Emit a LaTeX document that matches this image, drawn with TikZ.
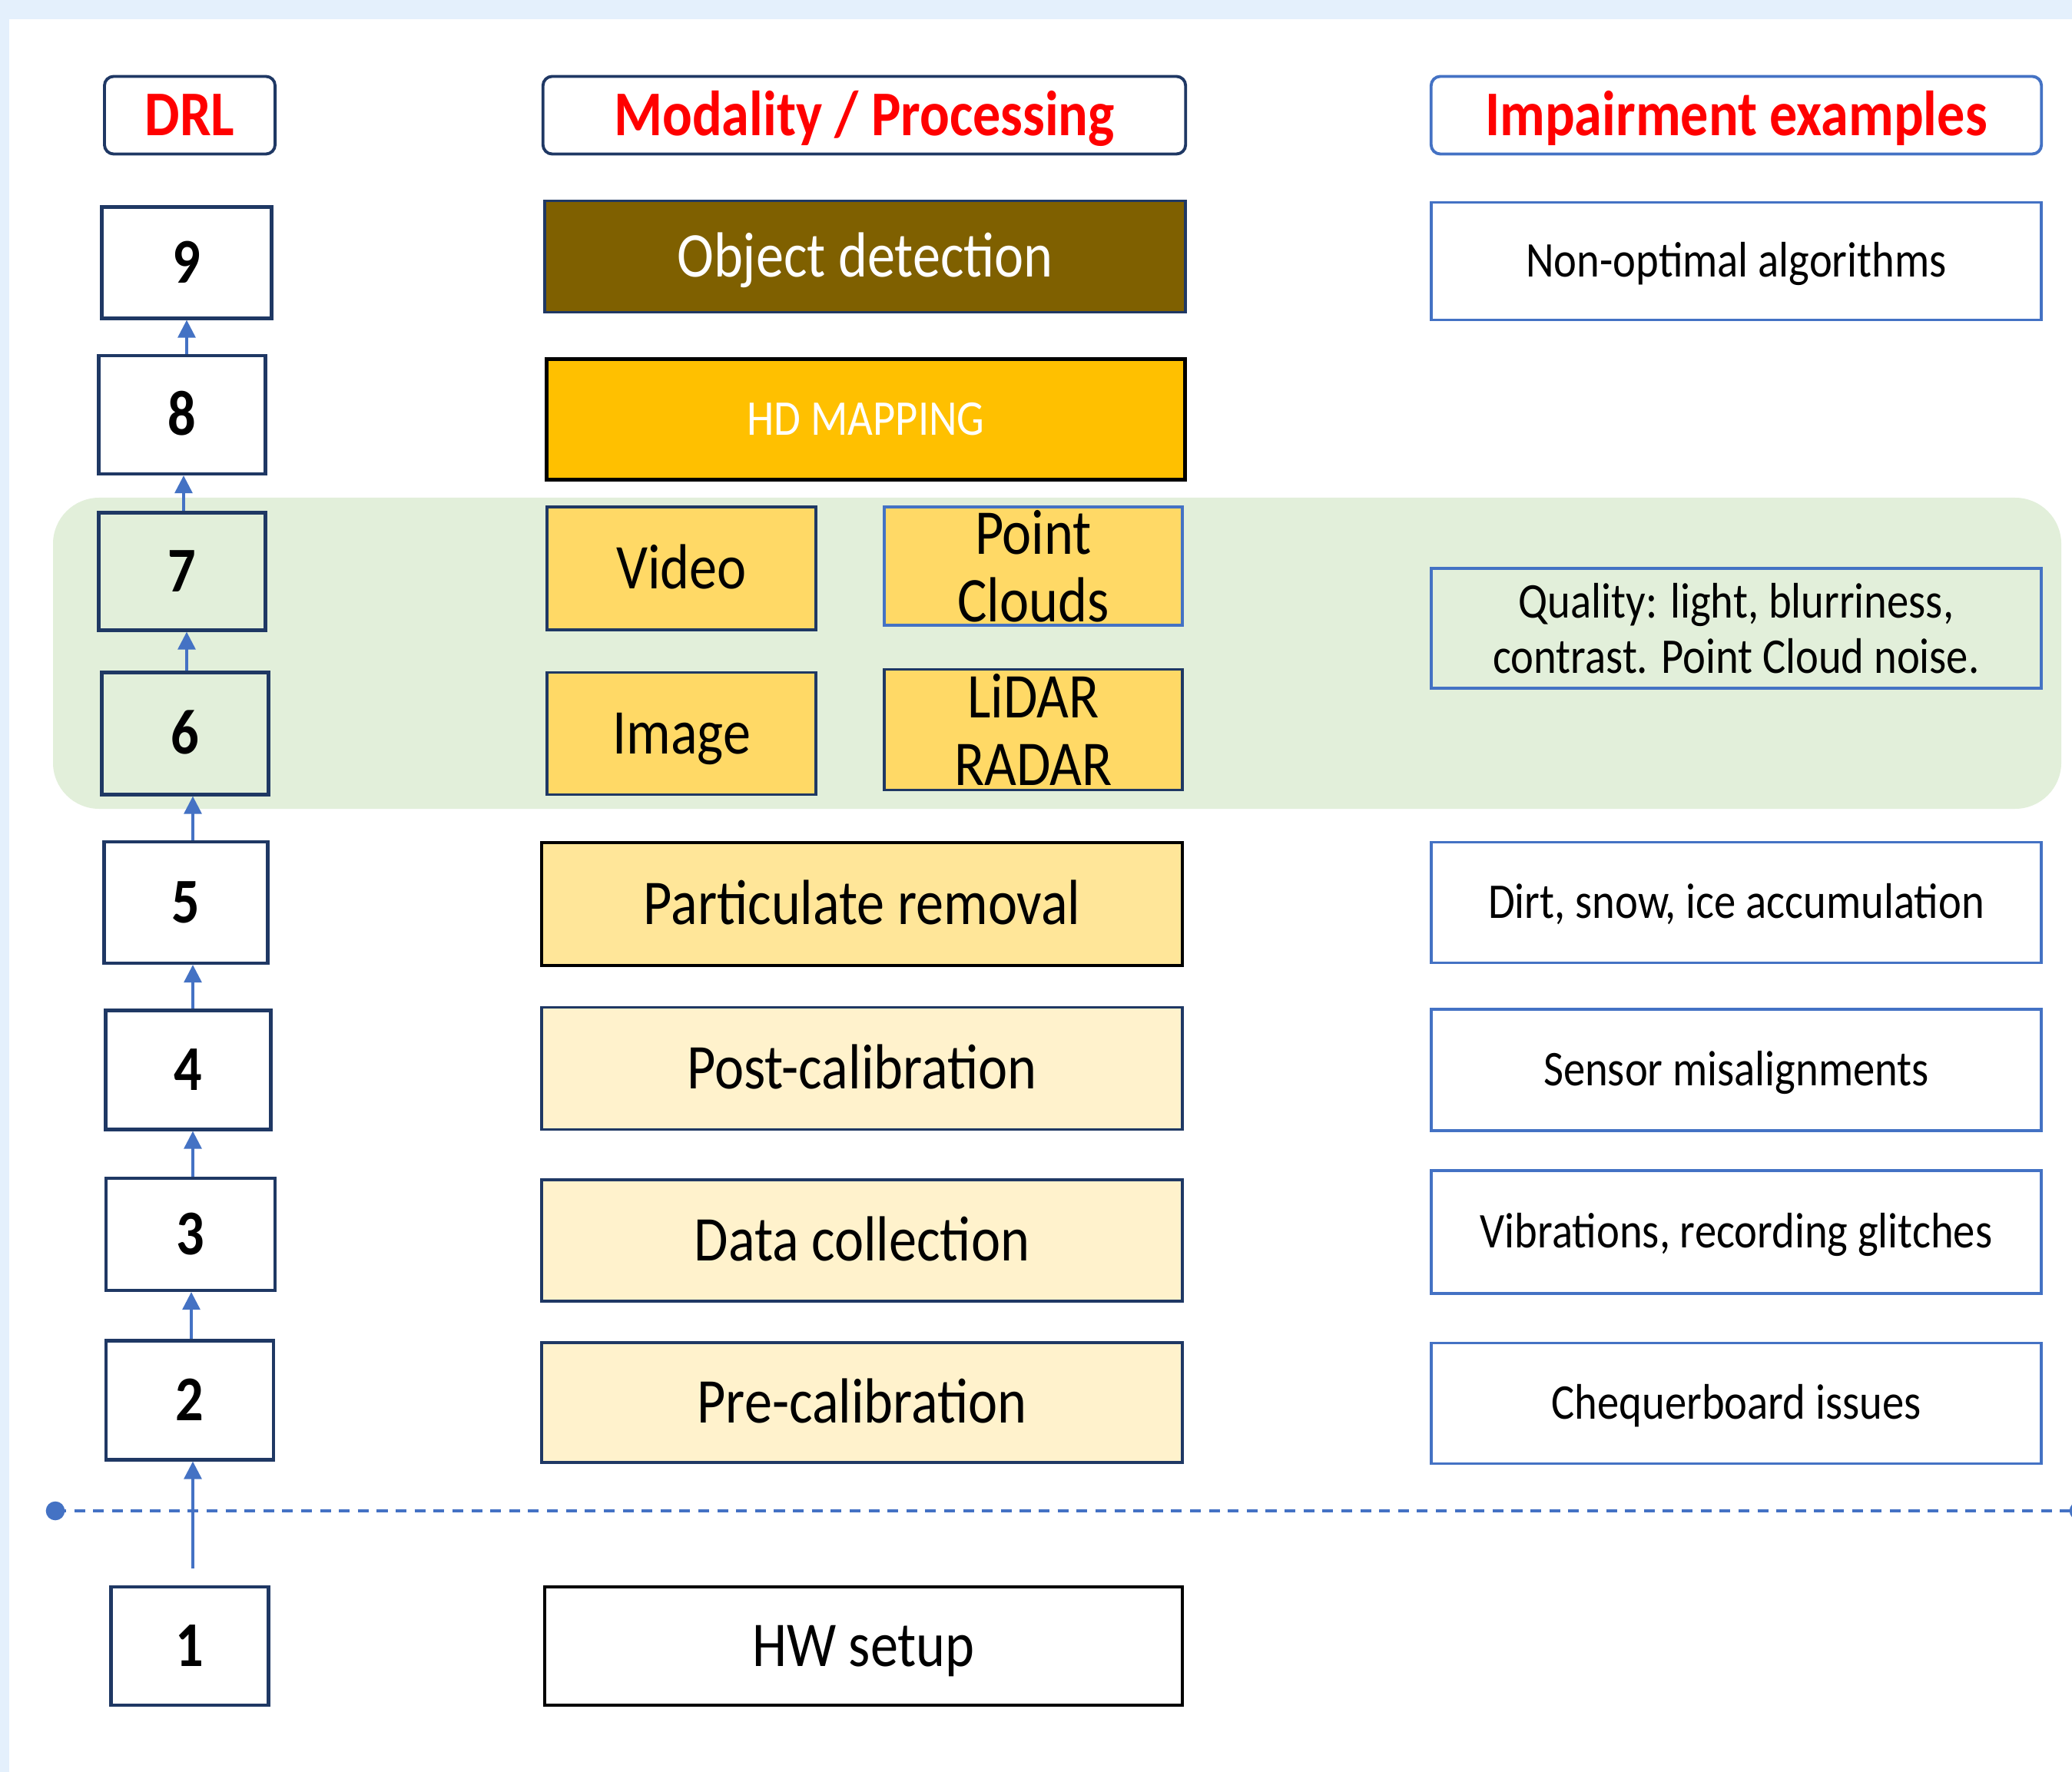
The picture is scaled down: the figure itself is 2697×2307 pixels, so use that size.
\documentclass[tikz,border=0pt]{standalone}
\usepackage{fontspec}
\setmainfont{Carlito}[FakeStretch=0.87]
\usepackage{tikz}
\usetikzlibrary{arrows.meta}
\definecolor{navy}{HTML}{1F3864}
\definecolor{impblue}{HTML}{4472C4}
\definecolor{bgblue}{HTML}{E4F0FC}
\definecolor{zonegreen}{HTML}{E2EFDA}
\definecolor{darkolive}{HTML}{7F6000}
\definecolor{amber}{HTML}{FFC000}
\definecolor{gold}{HTML}{FFD966}
\definecolor{sand}{HTML}{FFE699}
\definecolor{cream}{HTML}{FFF2CC}
\newcommand{\bigtxt}{\fontsize{23.6}{25}\selectfont}
\newcommand{\smalltxt}{\fontsize{18.5}{20.5}\selectfont}
\tikzset{
    bigline/.style={text height=14.9pt, text depth=0pt},
    smallline/.style={text height=11.7pt, text depth=0pt},
    hdr/.style={draw=navy, line width=1.1pt, rounded corners=0.12cm, fill=white, text=red,
        font=\bigtxt\bfseries, minimum height=1.01cm, inner sep=0pt, bigline},
    lvl/.style={draw=navy, line width=1.2pt, font=\bigtxt\bfseries, inner sep=0pt, bigline},
    procbox/.style={draw=navy, line width=1.1pt, font=\bigtxt, align=center, inner sep=0pt},
    proc/.style={procbox, bigline},
    impbox/.style={draw=impblue, line width=1.1pt, fill=white, font=\smalltxt, align=center,
        minimum width=7.94cm, minimum height=1.57cm, inner sep=0pt},
    imp/.style={impbox, smallline},
    flow/.style={impblue, line width=0.9pt, -{Triangle[length=6.5pt,width=6.5pt]}},
    cutline/.style={impblue, line width=1.3pt, dash pattern=on 4pt off 3pt}
}
\begin{document}
\begin{tikzpicture}[x=0.01cm,y=-0.01cm]
                \useasboundingbox (0,0) rectangle (2697,2307);
                \fill[bgblue] (0,0) rectangle (2697,2307);
                \fill[white] (12,25) rectangle (2697,2307);
                \fill[zonegreen, rounded corners=0.6cm] (69,648) rectangle (2683,1053);

                \coordinate (cutL) at (72,1967);
                \coordinate (cutR) at (2706,1967);
                \draw[cutline] (cutL) -- (cutR);
                \fill[impblue] (cutL) circle (3.5pt);
                \fill[impblue] (cutR) circle (3.5pt);

                \node[hdr, minimum width=2.22cm] (hDRL) at (247,150) {DRL};
                \node[hdr, minimum width=8.36cm] (hMod) at (1125,150) {Modality / Processing};
                \node[hdr, draw=impblue, minimum width=7.94cm] (hImp) at (2260,150) {Impairment examples};

                \node[lvl, fill=white, minimum width=2.21cm, minimum height=1.45cm] (b9) at (243,342) {9};
                \node[lvl, fill=white, minimum width=2.17cm, minimum height=1.54cm] (b8) at (237,540) {8};
                \node[lvl, minimum width=2.17cm, minimum height=1.53cm] (b7) at (237,744) {7};
                \node[lvl, minimum width=2.17cm, minimum height=1.59cm] (b6) at (241,955) {6};
                \node[lvl, fill=white, minimum width=2.13cm, minimum height=1.58cm] (b5) at (242,1175) {5};
                \node[lvl, fill=white, minimum width=2.15cm, minimum height=1.55cm] (b4) at (245,1393) {4};
                \node[lvl, fill=white, minimum width=2.20cm, minimum height=1.46cm] (b3) at (248,1607) {3};
                \node[lvl, fill=white, minimum width=2.18cm, minimum height=1.55cm] (b2) at (247,1823) {2};
                \node[lvl, fill=white, minimum width=2.05cm, minimum height=1.54cm] (b1) at (247,2143) {1};
                \coordinate (hwup) at (251,2042);

                \draw[flow] ([xshift=0.06cm]b8.north) -- ([xshift=0.06cm]b8.north |- b9.south);
                \draw[flow] ([xshift=0.02cm]b7.north) -- ([xshift=0.02cm]b7.north |- b8.south);
                \draw[flow] ([xshift=0.02cm]b6.north) -- ([xshift=0.02cm]b6.north |- b7.south);
                \draw[flow] ([xshift=0.09cm]b5.north) -- ([xshift=0.09cm]b5.north |- b6.south);
                \draw[flow] ([xshift=0.06cm]b4.north) -- ([xshift=0.06cm]b4.north |- b5.south);
                \draw[flow] ([xshift=0.03cm]b3.north) -- ([xshift=0.03cm]b3.north |- b4.south);
                \draw[flow] ([xshift=0.02cm]b2.north) -- ([xshift=0.02cm]b2.north |- b3.south);
                \draw[flow] (hwup) -- (hwup |- b2.south);

                \node[proc, fill=darkolive, text=white, minimum width=8.34cm, minimum height=1.45cm] (mObj) at (1126,334) {Object detection};
                \node[procbox, smallline, draw=black, line width=1.4pt, fill=amber, text=white, font=\smalltxt, minimum width=8.31cm, minimum height=1.56cm] (mHD) at (1127,546) {HD MAPPING};
                \node[proc, fill=gold, minimum width=3.49cm, minimum height=1.60cm] (mVid) at (887,740) {Video};
                \node[procbox, draw=impblue, fill=gold, minimum width=3.88cm, minimum height=1.54cm] (mPC) at (1345,737) {Point\\Clouds};
                \node[proc, fill=gold, minimum width=3.49cm, minimum height=1.59cm] (mImg) at (887,955) {Image};
                \node[procbox, fill=gold, minimum width=3.88cm, minimum height=1.57cm] (mLR) at (1345,950) {LiDAR\\RADAR};
                \node[proc, draw=black, fill=sand, minimum width=8.34cm, minimum height=1.60cm] (mPart) at (1122,1177) {Particulate removal};
                \node[proc, fill=cream, minimum width=8.34cm, minimum height=1.59cm] (mPost) at (1122,1391) {Post-calibration};
                \node[proc, fill=cream, minimum width=8.34cm, minimum height=1.58cm] (mData) at (1122,1615) {Data collection};
                \node[proc, fill=cream, minimum width=8.34cm, minimum height=1.56cm] (mPre) at (1122,1826) {Pre-calibration};
                \node[proc, draw=black, fill=white, minimum width=8.30cm, minimum height=1.54cm] (mHW) at (1124,2143) {HW setup};

                \node[imp, minimum height=1.53cm] (iAlg) at (2260,340) {Non-optimal algorithms};
                \node[impbox, fill=none, minimum height=1.56cm] (iQual) at (2260,818) {Quality: light, blurriness,\\contrast. Point Cloud noise.};
                \node[imp] (iDirt) at (2260,1175) {Dirt, snow, ice accumulation};
                \node[imp, minimum height=1.58cm] (iSens) at (2260,1393) {Sensor misalignments};
                \node[imp, minimum height=1.60cm] (iVib) at (2260,1604) {Vibrations, recording glitches};
                \node[imp] (iCheq) at (2260,1827) {Chequerboard issues};
            \end{tikzpicture}
\end{document}
